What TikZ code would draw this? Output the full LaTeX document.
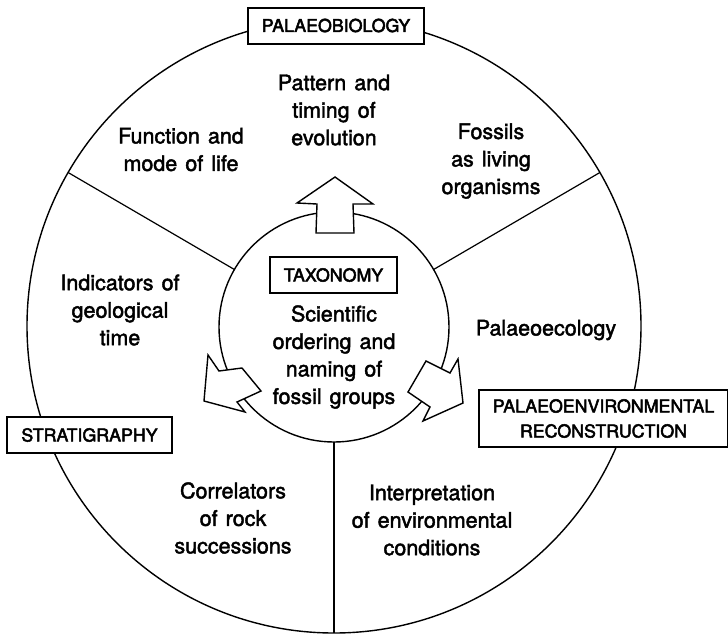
\documentclass[tikz,border=0pt]{standalone}
\usepackage{fontspec}
\setmainfont{TeX Gyre Heros}[FakeBold=2,WordSpace=1.35]
\newfontfamily\capsfont{TeX Gyre Heros}[FakeBold=2.8]
\usetikzlibrary{calc}

\begin{document}
\begin{tikzpicture}[x=1pt,y=-1pt,every node/.style={outer sep=0pt,inner sep=0pt}]
\tikzstyle{ring}=[circle,draw,line width=1.4pt]
\tikzstyle{field}=[align=center,font=\fontsize{21.5}{27.5}\selectfont]
\tikzstyle{branch}=[draw,fill=white,line width=2pt,inner xsep=14pt,minimum height=36pt,align=center,font=\capsfont\fontsize{17.8}{25}\selectfont]
\tikzstyle{block}=[draw,fill=white,line width=1.4pt,line join=miter]

\useasboundingbox (0,0) rectangle (728,635);

\node (outer) [ring,minimum size=614pt] at (334,326) {};
\node (inner) [ring,minimum size=230pt] at (334,327) {};

\foreach \a in {30,150,270}
   \draw [line width=1.2pt] (inner.\a) -- (outer.\a);

\draw [block] (335,177) -- (373,204) -- (353,204) -- (354,233)
   -- (316,233) -- (317,204) -- (297,203) -- cycle;
\draw [block] (204,401) -- (208,355) -- (219,371) -- (242,368)
   -- (261,391) -- (237,402) -- (245,412) -- cycle;
\draw [block] (463,403) -- (458,359) -- (450,373) -- (426,361)
   -- (408,392) -- (430,407) -- (423,421) -- cycle;

\node (evolution) [field] at (334,110) {Pattern and\\timing of\\evolution};
\node (function) [field] at (181,149.5) {Function and\\mode of life};
\node (organisms) [field] at (491,161) {Fossils\\as living\\organisms};
\node (time) [field] at (120,310) {Indicators of\\geological\\time};
\node (ordering) [field] at (334,357) {Scientific\\ordering and\\naming of\\fossil groups};
\node (ecology) [field] at (546,330) {Palaeoecology};
\node (correlators) [field] at (233,518) {Correlators\\of rock\\successions};
\node (conditions) [field] at (432,520) {Interpretation\\of environmental\\conditions};

\node (palaeobio) [branch] at (336,25.5) {PALAEOBIOLOGY};
\node (taxonomy) [branch] at (333.5,275) {TAXONOMY};
\node (strat) [branch] at (89.5,435) {STRATIGRAPHY};
\node (palaeoenv) [branch,minimum height=57pt] at (603.5,418.5) {PALAEOENVIRONMENTAL\\RECONSTRUCTION};

\end{tikzpicture}
\end{document}
